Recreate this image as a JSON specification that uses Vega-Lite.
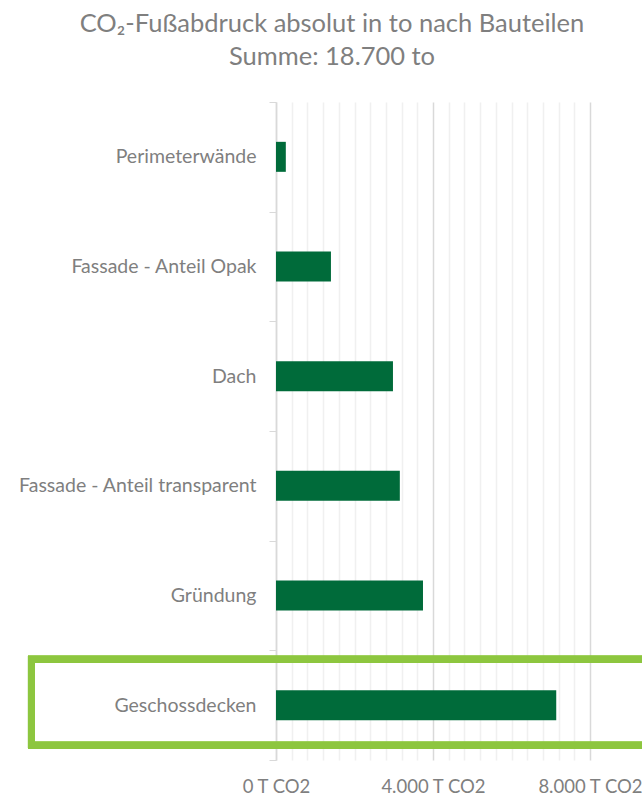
{
  "$schema": "https://vega.github.io/schema/vega-lite/v6.json",
  "autosize": {"type": "none"},
  "width": 314,
  "height": 658,
  "padding": {"left": 276, "top": 102, "right": 52, "bottom": 36},
  "background": "white",
  "config": {"view": {"stroke": null}, "font": "Lato"},
  "title": {
    "text": ["CO₂-Fußabdruck absolut in to nach Bauteilen", "Summe: 18.700 to"],
    "font": "Lato",
    "fontSize": 25.5,
    "fontWeight": "normal",
    "color": "#7f7f7f",
    "anchor": "middle",
    "frame": "group",
    "dx": -101,
    "lineHeight": 33,
    "offset": 22
  },
  "data": {
    "values": [
      {"bauteil": "Perimeterwände", "co2": 250},
      {"bauteil": "Fassade - Anteil Opak", "co2": 1400},
      {"bauteil": "Dach", "co2": 2980},
      {"bauteil": "Fassade - Anteil transparent", "co2": 3155},
      {"bauteil": "Gründung", "co2": 3745},
      {"bauteil": "Geschossdecken", "co2": 7140}
    ]
  },
  "encoding": {
    "y": {
      "field": "bauteil",
      "type": "nominal",
      "sort": ["Perimeterwände", "Fassade - Anteil Opak", "Dach", "Fassade - Anteil transparent", "Gründung", "Geschossdecken"],
      "scale": {"paddingInner": 0, "paddingOuter": 0},
      "axis": {
        "title": null,
        "tickBand": "extent",
        "tickSize": 7,
        "tickColor": "#d9d9d9",
        "domainColor": "#d9d9d9",
        "domainWidth": 1.5,
        "labelFont": "Lato",
        "labelFontSize": 19.5,
        "labelColor": "#7f7f7f",
        "labelPadding": 13,
        "labelLimit": 400
      }
    }
  },
  "layer": [
    {
      "mark": {"type": "bar", "color": "#006b3a", "size": 30},
      "encoding": {
        "x": {
          "field": "co2",
          "type": "quantitative",
          "scale": {"domain": [0, 8000], "nice": false},
          "axis": {
            "title": null,
            "values": [0, 4000, 8000],
            "grid": true,
            "gridColor": "#d9d9d9",
            "gridWidth": 1.5,
            "domain": false,
            "ticks": false,
            "labelFont": "Lato",
            "labelFontSize": 18.5,
            "labelColor": "#7f7f7f",
            "labelPadding": 17,
            "labelFlush": false,
            "labelOverlap": false,
            "labelExpr": "replace(format(datum.value, ','), ',', '.') + ' T CO2'"
          }
        }
      }
    },
    {
      "mark": {"type": "bar", "filled": false, "stroke": "#8dc63f", "strokeWidth": 7, "size": 86, "yOffset": -3, "clip": false},
      "encoding": {
        "y": {"datum": "Geschossdecken", "type": "nominal"},
        "x": {
          "datum": -6230,
          "type": "quantitative",
          "axis": {
            "title": null,
            "orient": "top",
            "values": [400, 800, 1200, 1600, 2000, 2400, 2800, 3200, 3600, 4400, 4800, 5200, 5600, 6000, 6400, 6800, 7200, 7600],
            "grid": true,
            "gridColor": "#f0f0f0",
            "gridWidth": 1.5,
            "domain": false,
            "ticks": false,
            "labels": false
          }
        },
        "x2": {"datum": 9500}
      }
    }
  ],
  "resolve": {"axis": {"x": "independent"}}
}
